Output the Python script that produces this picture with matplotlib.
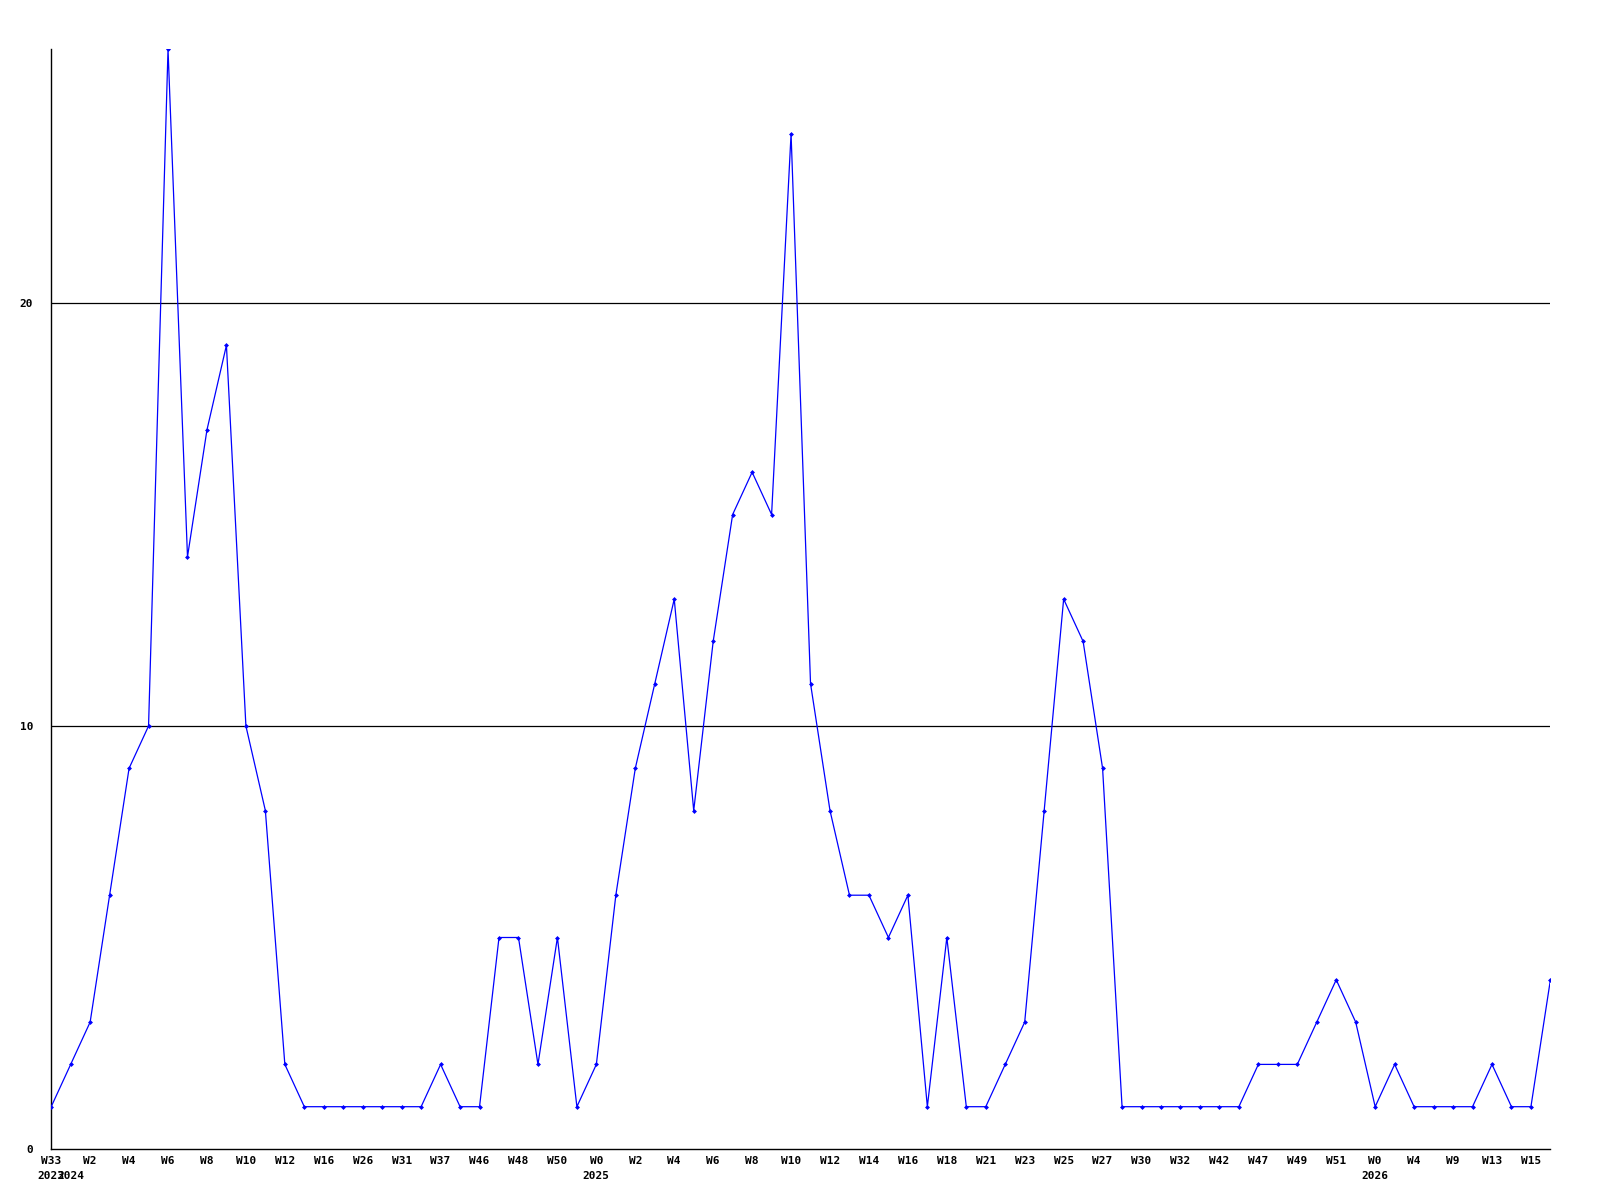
import matplotlib
matplotlib.use('Agg')
import matplotlib.pyplot as plt

# weekly counts, one per point
values = [1, 2, 3, 6, 9, 10, 26, 14, 17, 19,
          10, 8, 2, 1, 1, 1, 1, 1, 1, 1,
          2, 1, 1, 5, 5, 2, 5, 1, 2, 6,
          9, 11, 13, 8, 12, 15, 16, 15, 24, 11,
          8, 6, 6, 5, 6, 1, 5, 1, 1, 2,
          3, 8, 13, 12, 9, 1, 1, 1, 1, 1,
          1, 1, 2, 2, 2, 3, 4, 3, 1, 2,
          1, 1, 1, 1, 2, 1, 1, 4]

# labels on every other point
week_labels = ['W33', 'W2', 'W4', 'W6', 'W8', 'W10', 'W12', 'W16', 'W26', 'W31',
               'W37', 'W46', 'W48', 'W50', 'W0', 'W2', 'W4', 'W6', 'W8', 'W10',
               'W12', 'W14', 'W16', 'W18', 'W21', 'W23', 'W25', 'W27', 'W30', 'W32',
               'W42', 'W47', 'W49', 'W51', 'W0', 'W4', 'W9', 'W13', 'W15']
year_pos = [0, 1, 28, 68]
year_labels = ['2023', '2024', '2025', '2026']
y_ticks = [0, 10, 20]

font = dict(family='DejaVu Sans Mono', weight='bold', size=8)

fig = plt.figure(figsize=(16, 12), dpi=100)
ax = fig.add_axes([0.032, 0.0425, 0.937, 0.9165])

x = list(range(len(values)))
ax.plot(x, values, color='#0000ff', lw=0.9, marker='D', ms=2.5,
        markeredgewidth=0, zorder=3)

ax.set_xlim(0, len(values) - 1)
ax.set_ylim(0, 26)

for t in y_ticks[1:]:
    ax.axhline(t, color='black', lw=0.9, zorder=1)

ax.set_yticks(y_ticks)
ax.set_yticklabels([str(t) for t in y_ticks], **font)
ax.set_xticks(x[::2])
ax.set_xticklabels(week_labels, **font)
ax.tick_params(axis='y', length=0, pad=13)
ax.tick_params(axis='x', length=0, pad=5)

for p, lab in zip(year_pos, year_labels):
    ax.annotate(lab, xy=(p, 0), xycoords=('data', 'axes fraction'),
                xytext=(0, -16), textcoords='offset points',
                ha='center', va='top', **font)

for s in ['top', 'right']:
    ax.spines[s].set_visible(False)
for s in ['left', 'bottom']:
    ax.spines[s].set_linewidth(1.0)

fig.savefig('out.png', dpi=100)
